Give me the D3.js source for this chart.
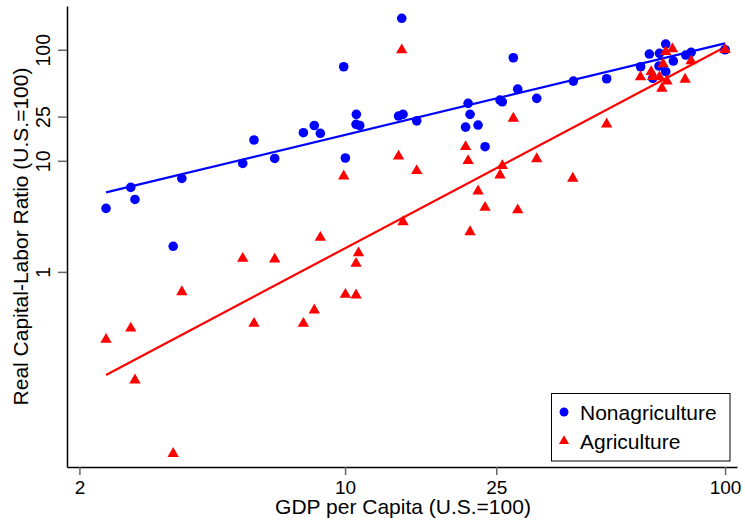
<!DOCTYPE html>
<html>
<head>
<meta charset="utf-8">
<script src="https://cdn.jsdelivr.net/npm/d3@7"></script>
<style>
  body { margin: 0; background: #fff; }
  svg { display: block; font-family: "Liberation Sans", Arial, sans-serif; }
</style>
</head>
<body>
<div class="container"></div>
<script>
// GDP per capita (x) and capital-labor ratio (y), both U.S.=100
const nonagGdp = [2.35, 2.73, 2.80, 3.72, 3.53, 5.38, 5.76, 6.53, 7.77, 8.30, 8.61, 9.92, 10.02, 10.71, 10.69, 10.93,
  14.10, 13.83, 14.21, 15.44, 21.08, 21.33, 20.76, 22.39, 23.36, 25.57, 25.93, 27.72, 28.47, 31.95, 39.89, 48.8,
  59.95, 63.2, 67.2, 69.8, 73.1, 67.0, 69.8, 64.5, 78.8, 81.4, 100];
const nonagK = [3.73, 5.76, 4.49, 6.94, 1.70, 9.47, 15.4, 10.5, 17.9, 20.8, 17.7, 70.3, 10.6, 26.2, 21.3, 20.8,
  192, 25.3, 26.2, 22.9, 32.9, 26.2, 20.1, 21.0, 13.4, 35.2, 34.0, 84.7, 44.2, 36.5, 52.2, 54.8,
  70.3, 91.5, 92.8, 112.5, 79.1, 71.3, 63.4, 55.3, 89.6, 94.8, 100];

const agGdp = [2.35, 2.73, 2.80, 3.72, 3.53, 5.38, 5.76, 6.53, 7.77, 8.30, 8.61, 9.92, 10.02, 10.69, 10.69, 10.85,
  14.10, 13.83, 14.21, 15.44, 20.76, 21.08, 21.33, 22.39, 23.36, 25.57, 25.93, 27.72, 28.47, 31.95, 39.74, 48.8,
  59.9, 63.9, 64.5, 67.2, 68.7, 69.8, 72.7, 81.4, 78.5, 68.2, 70.3, 100];
const agK = [0.246, 0.311, 0.106, 0.660, 0.0231, 1.32, 0.343, 1.30, 0.343, 0.452, 2.04, 7.28, 0.626, 0.617, 1.19, 1.48,
  99.4, 11.0, 2.82, 8.13, 13.4, 10.0, 2.29, 5.33, 3.80, 7.43, 9.01, 24.1, 3.60, 10.4, 6.94, 21.4,
  56.8, 63.4, 57.1, 56.8, 74.3, 95.9, 101.5, 79.1, 54.1, 44.9, 52.2, 100];

// fitted lines (log-log), end points
const fitGdp = [2.35, 100];
const nonagFit = [5.19, 114];
const agFit = [0.118, 106];

const xTicks = [2, 10, 25, 100];
const yTicks = [1, 10, 25, 100];
const seriesNames = ["Nonagriculture", "Agriculture"];

const w = 745;
const h = 522;
const plot = { left: 67, right: 737, top: 6, bottom: 467 };

const svg = d3.select('.container').append('svg')
    .attr('width', w)
    .attr('height', h);

const x = d3.scaleLog()
    .domain([1.855, 107.5])
    .range([plot.left, plot.right]);

const y = d3.scaleLog()
    .domain([0.0175, 247.7])
    .range([plot.bottom, plot.top]);

const blue = '#0000ff';
const red = '#ff0000';

const xAxis = d3.axisBottom(x)
    .tickValues(xTicks)
    .tickFormat(d3.format("d"))
    .tickSize(8)
    .tickSizeOuter(0);

const yAxis = d3.axisLeft(y)
    .tickValues(yTicks)
    .tickFormat(d3.format("d"))
    .tickSize(9)
    .tickSizeOuter(0);

const gx = svg.append('g')
    .attr('transform', `translate(0, ${plot.bottom})`)
    .call(xAxis);
gx.select('.domain').attr('stroke', '#000').attr('stroke-width', 1.5);
gx.selectAll('.tick line').attr('stroke', '#666').attr('stroke-width', 1.5);
gx.selectAll('.tick text')
    .attr('y', 26.5)
    .attr('dy', 0)
    .attr('fill', '#000')
    .style('font-size', '19px');

const gy = svg.append('g')
    .attr('transform', `translate(${plot.left}, 0)`)
    .call(yAxis);
gy.select('.domain').attr('stroke', '#000').attr('stroke-width', 1.5);
gy.selectAll('.tick line').attr('stroke', '#666').attr('stroke-width', 1.5);
gy.selectAll('.tick text')
    .attr('x', 0)
    .attr('dy', 0)
    .attr('transform', 'translate(-17, 0) rotate(-90)')
    .attr('text-anchor', 'middle')
    .attr('fill', '#000')
    .style('font-size', '19.5px');

// fit lines
const line = d3.line()
    .x(d => x(d[0]))
    .y(d => y(d[1]));

svg.append('path')
    .datum(d3.zip(fitGdp, nonagFit))
    .attr('d', line)
    .attr('fill', 'none')
    .attr('stroke', blue)
    .attr('stroke-width', 2.2);

svg.append('path')
    .datum(d3.zip(fitGdp, agFit))
    .attr('d', line)
    .attr('fill', 'none')
    .attr('stroke', red)
    .attr('stroke-width', 2.2);

// points
svg.selectAll('.dot')
    .data(d3.zip(nonagGdp, nonagK))
    .enter()
    .append('circle')
      .classed('dot', true)
      .attr('cx', d => x(d[0]))
      .attr('cy', d => y(d[1]))
      .attr('r', 4.8)
      .attr('fill', blue);

const tri = d3.symbol().type(d3.symbolTriangle).size(56);

svg.selectAll('.tri')
    .data(d3.zip(agGdp, agK))
    .enter()
    .append('path')
      .classed('tri', true)
      .attr('d', tri)
      .attr('transform', d => `translate(${x(d[0])}, ${y(d[1])})`)
      .attr('fill', red);

// axis titles
svg.append('text')
    .attr('x', (plot.left + plot.right) / 2 + 1)
    .attr('y', 514)
    .attr('text-anchor', 'middle')
    .style('font-size', '21px')
    .text('GDP per Capita (U.S.=100)');

svg.append('text')
    .attr('transform', `translate(28, ${(plot.top + plot.bottom) / 2}) rotate(-90)`)
    .attr('text-anchor', 'middle')
    .style('font-size', '21px')
    .text('Real Capital-Labor Ratio (U.S.=100)');

// legend
const legend = svg.append('g')
    .attr('transform', 'translate(551.5, 393.5)');

legend.append('rect')
    .attr('width', 178.5)
    .attr('height', 67.5)
    .attr('fill', '#fff')
    .attr('stroke', '#000')
    .attr('stroke-width', 1);

const item = legend.selectAll('.legend')
    .data(seriesNames)
    .enter()
    .append('g')
      .attr('class', 'legend')
      .attr('transform', (d, i) => `translate(0, ${18.5 + i * 29})`);

item.append('path')
    .attr('d', (d, i) => i === 0
        ? d3.symbol().type(d3.symbolCircle).size(62)()
        : d3.symbol().type(d3.symbolTriangle).size(44)())
    .attr('transform', 'translate(12.5, 0)')
    .attr('fill', (d, i) => i === 0 ? blue : red);

item.append('text')
    .attr('x', 28.5)
    .attr('y', 7.5)
    .style('font-size', '21px')
    .text(d => d);
</script>
</body>
</html>
